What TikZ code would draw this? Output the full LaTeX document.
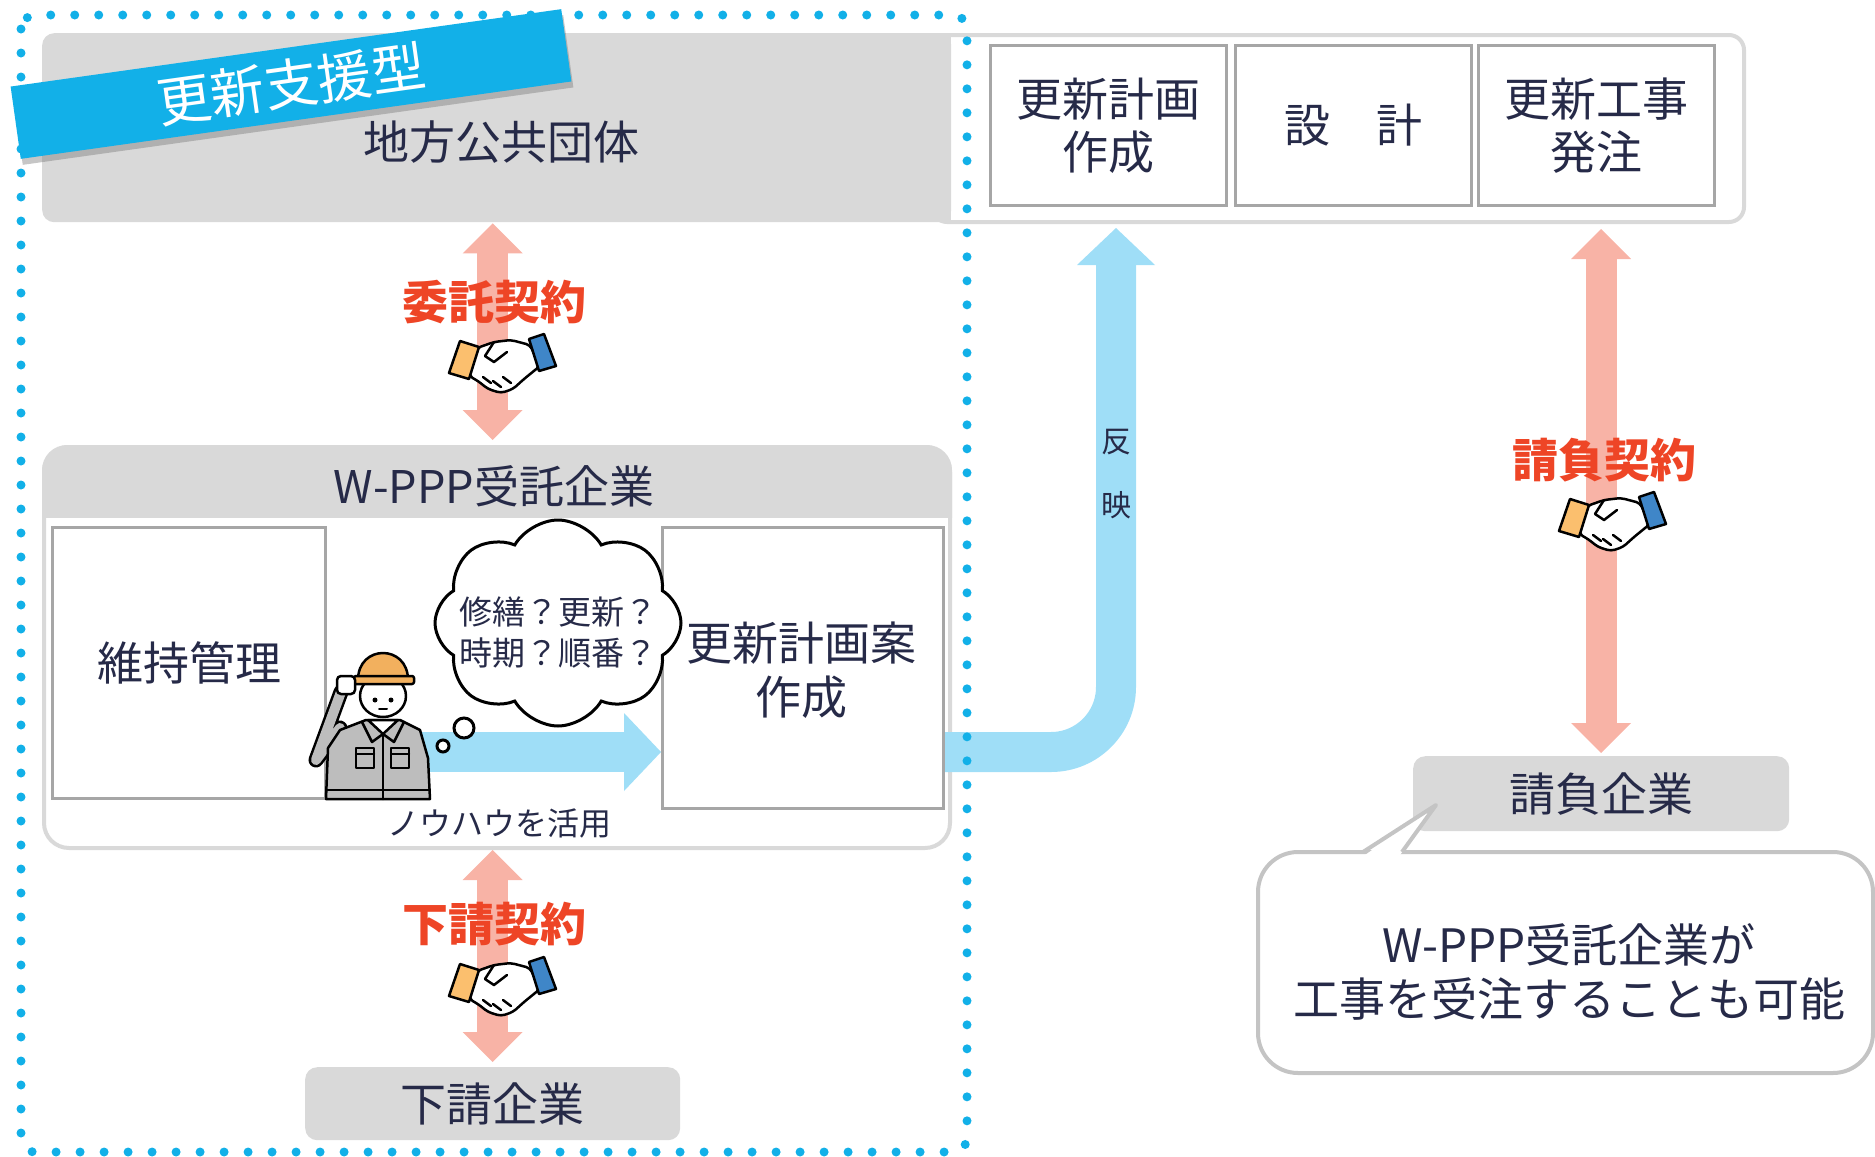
\documentclass[tikz,border=0pt]{standalone}
\usepackage{fontspec}
\setmainfont{Noto Sans CJK JP}
\usetikzlibrary{positioning,arrows.meta,shapes.symbols,shadows}

\definecolor{dotblue}{HTML}{12B0E8}
\definecolor{panelgrey}{HTML}{D9D9D9}
\definecolor{boxgrey}{HTML}{A6A6A6}
\definecolor{inkblue}{HTML}{262A48}
\definecolor{contractred}{HTML}{EE4526}
\definecolor{contractpink}{HTML}{F8B3A6}
\definecolor{flowblue}{HTML}{9FDEF7}
\definecolor{hatorange}{HTML}{F2B05E}
\definecolor{cufforange}{HTML}{FBBF6E}
\definecolor{cuffblue}{HTML}{3F86C8}
\definecolor{workgrey}{HTML}{BDBDBD}
\definecolor{calloutgrey}{HTML}{C4C4C4}

\tikzset{
  handshake/.pic={
    % hands
    \filldraw[fill=white, draw=black, line width=2.5pt, rounded corners=4pt, line join=round]
      (-25,-17) -- (-8,-23) -- (9,-25) -- (28,-20) -- (38,1) -- (22,14) -- (11,24)
      -- (-1,28) -- (-14,24) -- (-24,16) -- (-33,11) -- cycle;
    \draw[line width=2.5pt, line join=round, line cap=round]
      (-8,-23) -- (-17,-9) -- (-8,-3) -- (5,-13)
      (-19,12) -- (-11,18) (-9,16) -- (-1,22) (1,12) -- (9,18);
    % cuffs
    \filldraw[fill=cufforange, line width=2.5pt, line join=round]
      (-42,-24) -- (-23,-18) -- (-33,14) -- (-53,8) -- cycle;
    \filldraw[fill=cuffblue, line width=2.5pt, line join=round]
      (27,-26) -- (42,-31) -- (54,1) -- (37,6) -- cycle;
  }
}

\begin{document}
\begin{tikzpicture}[x=1pt, y=-1pt,
    every node/.style={text=inkblue, inner sep=0pt},
    greybox/.style={fill=panelgrey, rounded corners=12pt},
    stepbox/.style={draw=boxgrey, line width=3pt, fill=white, minimum width=236pt,
      minimum height=160pt, align=center, font=\fontsize{46}{53}\selectfont},
    bigtext/.style={font=\fontsize{46}{54}\selectfont, align=center},
    deal/.style={text=contractred, font=\fontsize{46}{46}\selectfont\bfseries},
    contract/.style={contractpink, line width=31pt,
      {Triangle[width=60pt,length=30pt,line width=0pt]}-{Triangle[width=60pt,length=30pt,line width=0pt]}},
    flowarrow/.style={flowblue, line width=40pt,
      -{Triangle[width=78pt,length=37pt,line width=0pt]}},
    outline/.style={draw=black, line width=2.5pt, line join=round, line cap=round}
  ]
  \useasboundingbox (0,0) rectangle (1875,1157);

  % flow of the renewal work
  \node[draw=panelgrey, line width=4pt, fill=white, rounded corners=15pt, anchor=north west,
        minimum width=812pt, minimum height=187pt] (flow) at (930,33) {};
  \node[stepbox, anchor=north west] (keikaku) at (989,44) {更新計画\\作成};
  \node[stepbox, anchor=north west] (sekkei) at (1234,44) {設　計};
  \node[stepbox, anchor=north west] (hatchu) at (1477,44) {更新工事\\発注};

  % local government
  \node[greybox, anchor=north west, minimum width=909pt, minimum height=189pt] (jichitai) at (42,33) {};
  \fill[panelgrey] (930,33) rectangle (951,222);
  \node[bigtext] (jichitaitext) at (501,142) {地方公共団体};

  % W-PPP contractor panel
  \node[draw=panelgrey, line width=4pt, fill=white, rounded corners=25pt, anchor=north west,
        minimum width=906pt, minimum height=401pt] (wppp) at (42,445) {};
  \begin{scope}
    \clip (30,430) rectangle (960,517);
    \fill[panelgrey, rounded corners=25pt] (wppp.north west) rectangle (wppp.south east);
  \end{scope}
  \node[font=\fontsize{45}{45}\selectfont] (wppptitle) at (494,486) {W-PPP受託企業};

  \node[draw=boxgrey, line width=3pt, fill=white, anchor=north west, minimum width=273pt,
        minimum height=271pt, bigtext] (iji) at (51,526) {維持管理};
  \node[draw=boxgrey, line width=3pt, fill=white, anchor=north west, minimum width=281pt,
        minimum height=281pt] (keikakuan) at (661,526) {};

  \coordinate (bend) at (1116,752);
  \draw[flowarrow, shorten <=4pt] (iji.east |- bend) -- (keikakuan.west |- bend);

  % worker with hard hat
  \draw[black, line width=15pt, line join=round, line cap=round] (340,728) -- (316,760) -- (341,692);
  \draw[workgrey, line width=10pt, line join=round, line cap=round] (340,728) -- (316,760) -- (341,692);
  \filldraw[fill=workgrey, outline] (326,799) -- (328,748) -- (340,730) -- (366,720) -- (400,720)
    -- (420,730) -- (428,758) -- (430,799) -- cycle;
  \filldraw[fill=white, outline] (368,720) -- (383,734) -- (398,720) -- cycle;
  \draw[outline] (362,722) -- (372,742) -- (383,734) -- (394,742) -- (404,722);
  \draw[outline] (383,734) -- (383,799) (327,790) -- (429,790);
  \draw[outline] (356,748) rectangle (374,768) (356,754) -- (374,754);
  \draw[outline] (391,748) rectangle (409,768) (391,754) -- (409,754);
  \filldraw[fill=white, outline] (383,696) ellipse[x radius=23, y radius=21];
  \fill (375,700) circle[radius=2.5] (391,700) circle[radius=2.5];
  \draw[outline, line width=2pt] (379,709) -- (387,709);
  \filldraw[fill=hatorange, outline] (358,680) .. controls (358,644) and (408,644) .. (408,680) -- cycle;
  \filldraw[fill=hatorange, outline, rounded corners=2pt] (354,676) rectangle (414,684);
  \filldraw[fill=white, outline, rounded corners=4pt] (337,676) rectangle (355,694);

  % thought cloud
  \node[cloud, cloud puffs=8, cloud puff arc=120, aspect=1.15, draw=black, line width=3pt,
        fill=white, minimum width=246pt, minimum height=206pt] (thought) at (558,623) {};
  \filldraw[fill=white, draw=black, line width=3pt] (464,728) circle[radius=10] (443,746) circle[radius=6];
  \node[font=\fontsize{33}{41}\selectfont, align=center] (thoughttext) at (558,632)
    {修繕？更新？\\時期？順番？};

  \node[bigtext] (keikakuantext) at (801,670) {更新計画案\\作成};
  \node[font=\fontsize{32}{32}\selectfont] (knowhow) at (499,823) {ノウハウを活用};

  % reflected into the renewal plan
  \draw[flowarrow, rounded corners=65pt, shorten >=21pt]
    (keikakuan.east |- bend) -- (bend) -- (bend |- keikaku.south);
  \node[font=\fontsize{30}{30}\selectfont] (han) at (1116,442) {反};
  \node[font=\fontsize{30}{30}\selectfont] (ei) at (1116,505) {映};

  % companies
  \node[greybox, minimum width=375pt, minimum height=73pt, anchor=north west,
        bigtext] (shitauke) at (305,1067) {下請企業};
  \node[greybox, minimum width=376pt, minimum height=75pt, anchor=north west,
        bigtext] (ukeoi) at (1413,756) {請負企業};

  % contracts
  \draw[contract, shorten <=1pt, shorten >=5pt] (shitauke.north |- jichitai.south) -- (shitauke.north |- wppp.north);
  \node[deal] (itaku) at (494,302) {委託契約};
  \pic at (502,365) {handshake};

  \draw[contract, shorten >=5pt] (shitauke.north |- wppp.south) -- (shitauke.north);
  \node[deal] (shitaukekeiyaku) at (494,924) {下請契約};
  \pic at (502,988) {handshake};

  \draw[contract, shorten <=5pt, shorten >=3pt] (ukeoi.north |- flow.south) -- (ukeoi.north);
  \node[deal] (ukeoikeiyaku) at (1604,460) {請負契約};
  \pic at (1612,523) {handshake};

  % callout from the contractor
  \draw[draw=calloutgrey, line width=4pt, fill=white, rounded corners=40pt] (1258,852) rectangle (1873,1073);
  \fill[white] (1365,855) -- (1436,805) -- (1400,855) -- cycle;
  \draw[calloutgrey, line width=4pt, line join=round] (1363,852) -- (1436,805) -- (1402,852);
  \node[bigtext] (callout) at (1569,972) {W-PPP受託企業が\\工事を受注することも可能};

  % renewal support scope
  \draw[dotblue, line width=9pt, line cap=round, dash pattern=on 0pt off 24pt, rounded corners=14pt]
    (21,15) rectangle (967,1152);
  \node[fill=dotblue, text=white, minimum width=556pt, minimum height=73pt, rotate=8,
        font=\fontsize{54}{54}\selectfont,
        drop shadow={shadow xshift=2pt, shadow yshift=-6pt, opacity=0.45}] (banner) at (291,84) {更新支援型};
\end{tikzpicture}
\end{document}
